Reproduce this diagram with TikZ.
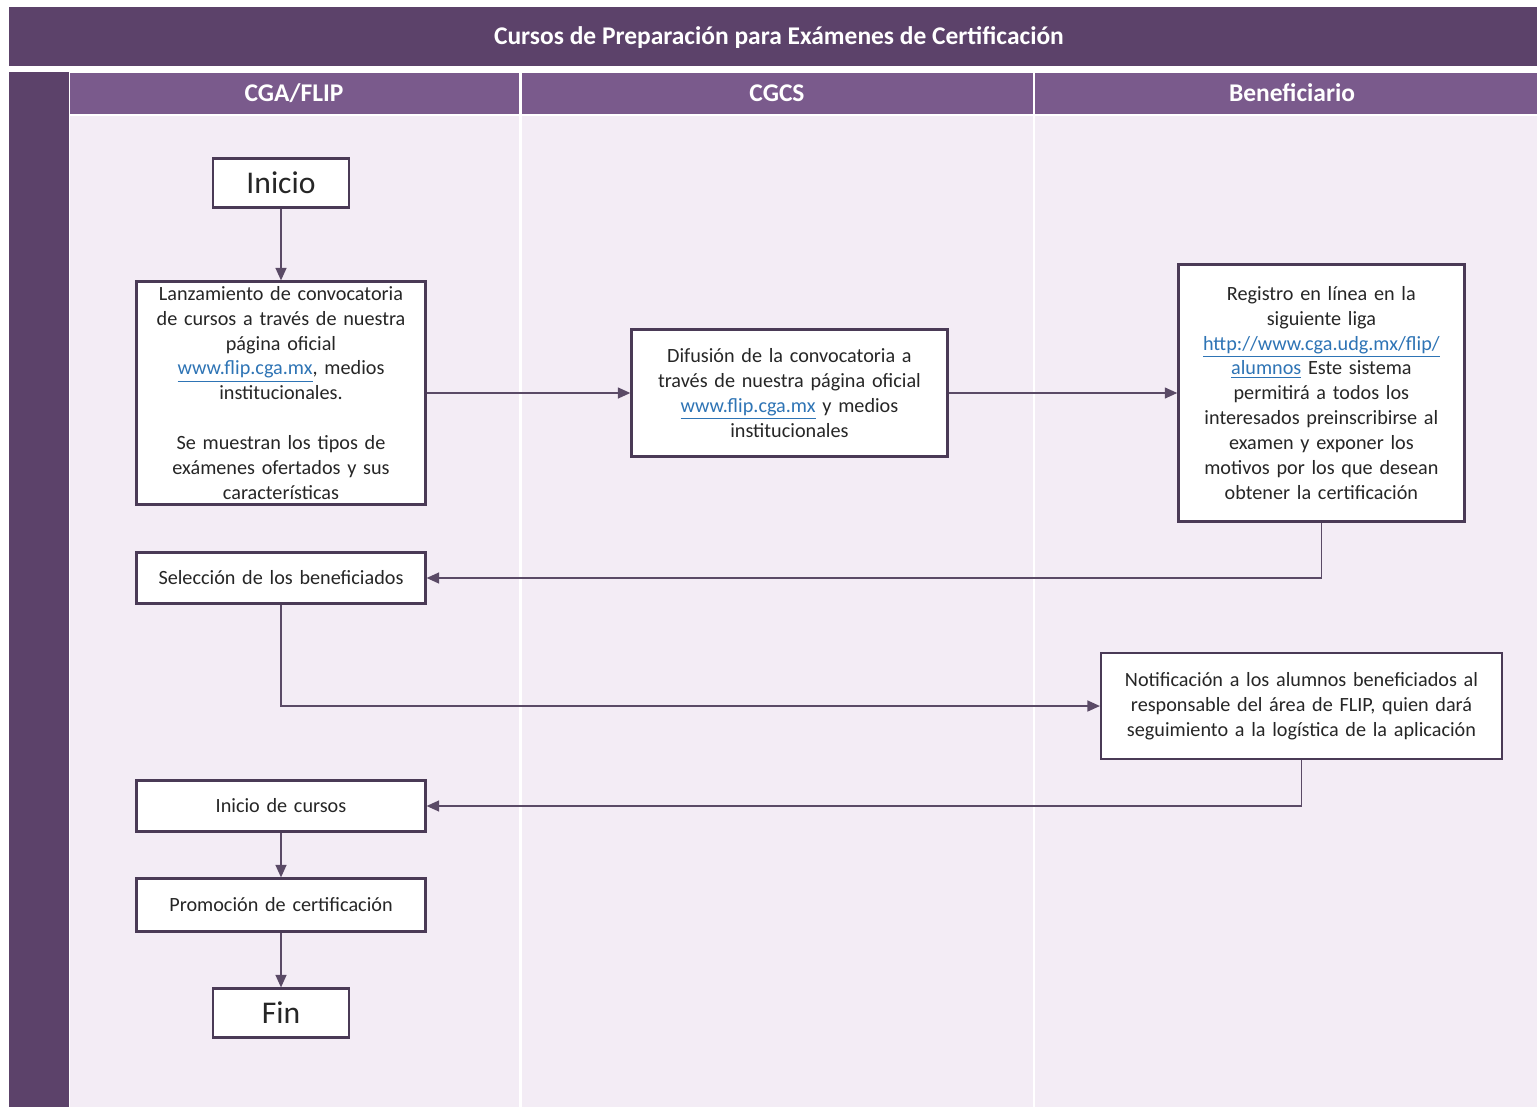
\documentclass[tikz,border=0pt]{standalone}
\usepackage{fontspec}
\setmainfont{Carlito}
\usepackage{tikz}
\usetikzlibrary{positioning,arrows.meta}
\usepackage{xcolor}

\definecolor{titulo}{HTML}{5C426A}
\definecolor{encabezado}{HTML}{7A5A8C}
\definecolor{fondo}{HTML}{F3ECF5}
\definecolor{linea}{HTML}{5A4A66}
\definecolor{borde}{HTML}{4A3A56}
\definecolor{texto}{HTML}{262626}
\definecolor{ligacolor}{HTML}{2E74B5}
\newcommand{\liga}[1]{{\color{ligacolor}\underline{#1}}}

\tikzset{
  paso/.style={draw=borde, line width=1.3pt, fill=white, align=center, inner xsep=0.1cm, inner ysep=0pt,
    text=texto, font=\fontsize{11.5}{14.2}\selectfont},
  terminal/.style={paso, text width=2.52cm, minimum height=0.98cm, font=\fontsize{18}{20}\selectfont},
  flecha/.style={-{Triangle[length=2.5mm,width=2.2mm]}, draw=linea, line width=0.8pt},
  carril/.style={text=white, font=\fontsize{14.5}{17}\selectfont\bfseries},
}

\begin{document}
\begin{tikzpicture}[x=0.02cm,y=-0.02cm]
\useasboundingbox (0,0) rectangle (1537,1107);
\fill[white] (0,0) rectangle (1537,1107);
% title and lanes
\fill[titulo] (9,7) rectangle (1537,66);
\fill[titulo] (9,72) rectangle (69,1107);
\fill[encabezado] (70,73) rectangle (1537,114);
\fill[fondo] (70,116) rectangle (1537,1107);
\draw[white, line width=1.2pt] (520.5,73) -- (520.5,1107) (1034,73) -- (1034,1107);
\node[carril] (titulo) at (779,38) {Cursos de Preparación para Exámenes de Certificación};
\node[carril] (cga) at (294,93) {CGA/FLIP};
\node[carril] (cgcs) at (777,93) {CGCS};
\node[carril] (benef) at (1292,93) {Beneficiario};

% steps
\node[terminal] (inicio) at (281,183) {Inicio};
\node[paso, text width=5.58cm, minimum height=4.46cm] (lanz) [below=1.435cm of inicio]
  {Lanzamiento de convocatoria\\ de cursos a través de nuestra\\ página oficial\\
   \liga{www.flip.cga.mx}, medios\\ institucionales.\\[14.2pt]
   Se muestran los tipos de\\ exámenes ofertados y sus\\ características};
\node[paso, text width=6.12cm, minimum height=2.54cm] (difusion) [right=4.075cm of lanz]
  {Difusión de la convocatoria a\\ través de nuestra página oficial\\
   \liga{www.flip.cga.mx} y medios\\ institucionales};
\node[paso, text width=5.52cm, minimum height=5.14cm] (registro) [right=4.575cm of difusion]
  {Registro en línea en la\\ siguiente liga\\ \liga{http://www.cga.udg.mx/flip/}\\
   \liga{alumnos} Este sistema\\ permitirá a todos los\\ interesados preinscribirse al\\
   examen y exponer los\\ motivos por los que desean\\ obtener la certificación};
\node[paso, text width=5.58cm, minimum height=1.02cm] (seleccion) [below=0.915cm of lanz]
  {Selección de los beneficiados};
\node[paso, text width=7.82cm, minimum height=2.12cm] (notif) at (1301.5,706)
  {Notificación a los alumnos beneficiados al\\ responsable del área de FLIP, quien dará\\
   seguimiento a la logística de la aplicación};
\node[paso, text width=5.58cm, minimum height=1.02cm] (cursos) [below=3.495cm of seleccion]
  {Inicio de cursos};
\node[paso, text width=5.58cm, minimum height=1.06cm] (promo) [below=0.895cm of cursos]
  {Promoción de certificación};
\node[terminal] (fin) [below=1.095cm of promo] {Fin};

% connectors
\draw[flecha] (inicio) -- (lanz);
\draw[flecha] (lanz) -- (difusion);
\draw[flecha] (difusion) -- (registro);
\draw[flecha] (registro.south) |- (seleccion.east);
\draw[flecha] (seleccion.south) |- (notif.west);
\draw[flecha] (notif.south) |- (cursos.east);
\draw[flecha] (cursos) -- (promo);
\draw[flecha] (promo) -- (fin);
\end{tikzpicture}
\end{document}
